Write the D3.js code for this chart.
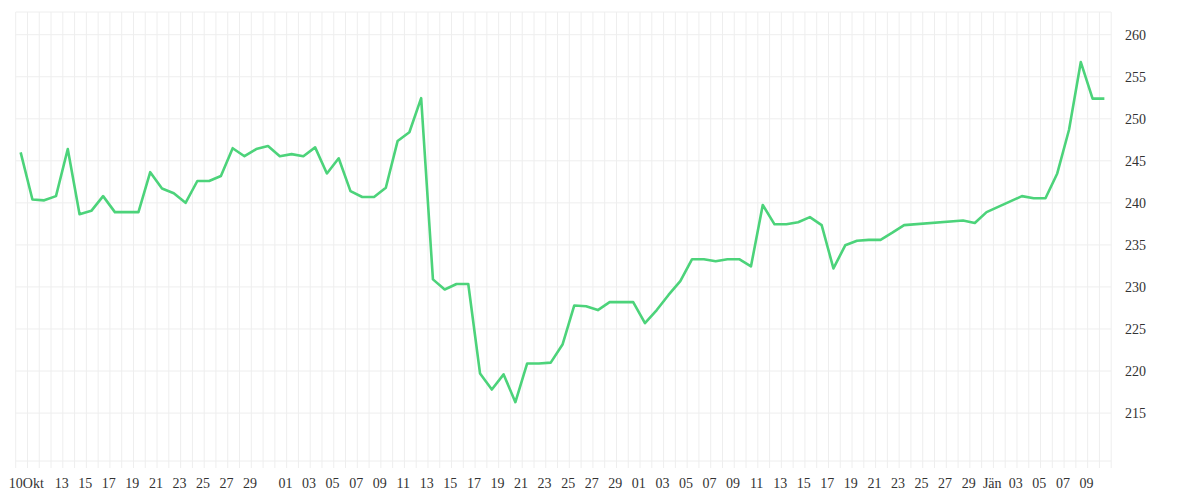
<!DOCTYPE html>
<html><head><meta charset="utf-8">
<script src="https://cdn.jsdelivr.net/npm/d3@7"></script>
<style>body{margin:0;background:#fff}</style>
</head><body><svg id="c" width="1200" height="500"></svg>
<script>
// day index from 10 Okt (0) and value
const dayIdx = [0,1,2,3,4,5,6,7,8,9,10,11,12,13,14,15,16,17,18,19,20,21,22,23,24,25,26,27,28,29,30,31,32,33,34,35,36,37,38,39,40,41,42,43,44,45,46,47,48,49,50,51,52,53,54,55,56,57,58,59,60,61,62,63,64,65,66,67,68,69,70,71,72,73,74,75,80,81,82,85,86,87,88,89,90,91,92];
const values = [246.0,240.4,240.3,240.8,246.4,238.65,239.05,240.8,238.9,238.9,238.9,243.65,241.7,241.15,240.0,242.6,242.6,243.2,246.5,245.55,246.4,246.75,245.55,245.8,245.55,246.6,243.5,245.3,241.4,240.7,240.7,241.8,247.35,248.4,252.45,230.9,229.7,230.35,230.35,219.7,217.8,219.6,216.3,220.9,220.9,221.0,223.15,227.8,227.7,227.25,228.2,228.2,228.2,225.7,227.25,229.05,230.7,233.3,233.3,233.05,233.3,233.3,232.45,239.75,237.45,237.45,237.7,238.3,237.35,232.2,234.95,235.5,235.6,235.6,236.45,237.35,237.9,237.6,238.9,240.8,240.55,240.55,243.5,248.7,256.75,252.4,252.4];
const tickDays = [0,3,5,7,9,11,13,15,17,19,22,24,26,28,30,32,34,36,38,40,42,44,46,48,50,52,54,56,58,60,62,64,66,68,70,72,74,76,78,80,82,84,86,88,90];
const tickLabels = ["10Okt","13","15","17","19","21","23","25","27","29","01","03","05","07","09","11","13","15","17","19","21","23","25","27","29","01","03","05","07","09","11","13","15","17","19","21","23","25","27","29","Jän","03","05","07","09"];
const yTicks = [215,220,225,230,235,240,245,250,255,260];

const svg = d3.select("#c");
const x = d3.scaleLinear().domain([0, 93]).range([15.7, 1111.2]);
const y = d3.scaleLinear().domain([209.3, 262.7]).range([461, 12]);
const ptOff = 0.42, lblOff = 0.9;
const font = "'Liberation Serif', 'DejaVu Serif', serif";

const g = svg.append("g");
g.selectAll("line.v").data(d3.range(0, 94)).join("line")
  .attr("x1", d => x(d)).attr("x2", d => x(d)).attr("y1", 12).attr("y2", 468)
  .attr("stroke", "#eeeeee").attr("stroke-width", 1);
g.selectAll("line.h").data(yTicks.concat([209.3, 262.7])).join("line")
  .attr("x1", 15.7).attr("x2", 1111.2).attr("y1", d => y(d)).attr("y2", d => y(d))
  .attr("stroke", "#eeeeee").attr("stroke-width", 1);

svg.selectAll("text.y").data(yTicks).join("text")
  .attr("x", 1125).attr("y", d => y(d) + 5)
  .attr("font-family", font).attr("font-size", 14).attr("fill", "#333")
  .text(d => d);
svg.selectAll("text.x").data(tickDays).join("text")
  .attr("x", d => x(d + lblOff)).attr("y", 488).attr("text-anchor", "middle")
  .attr("font-family", font).attr("font-size", 14).attr("fill", "#333")
  .text((d, i) => tickLabels[i]);

const line = d3.line().x((d, i) => x(dayIdx[i] + ptOff)).y(d => y(d));
svg.append("path").datum(values).attr("d", line)
  .attr("fill", "none").attr("stroke", "#4cd37a").attr("stroke-width", 2.6)
  .attr("stroke-linejoin", "round");
</script></body></html>
